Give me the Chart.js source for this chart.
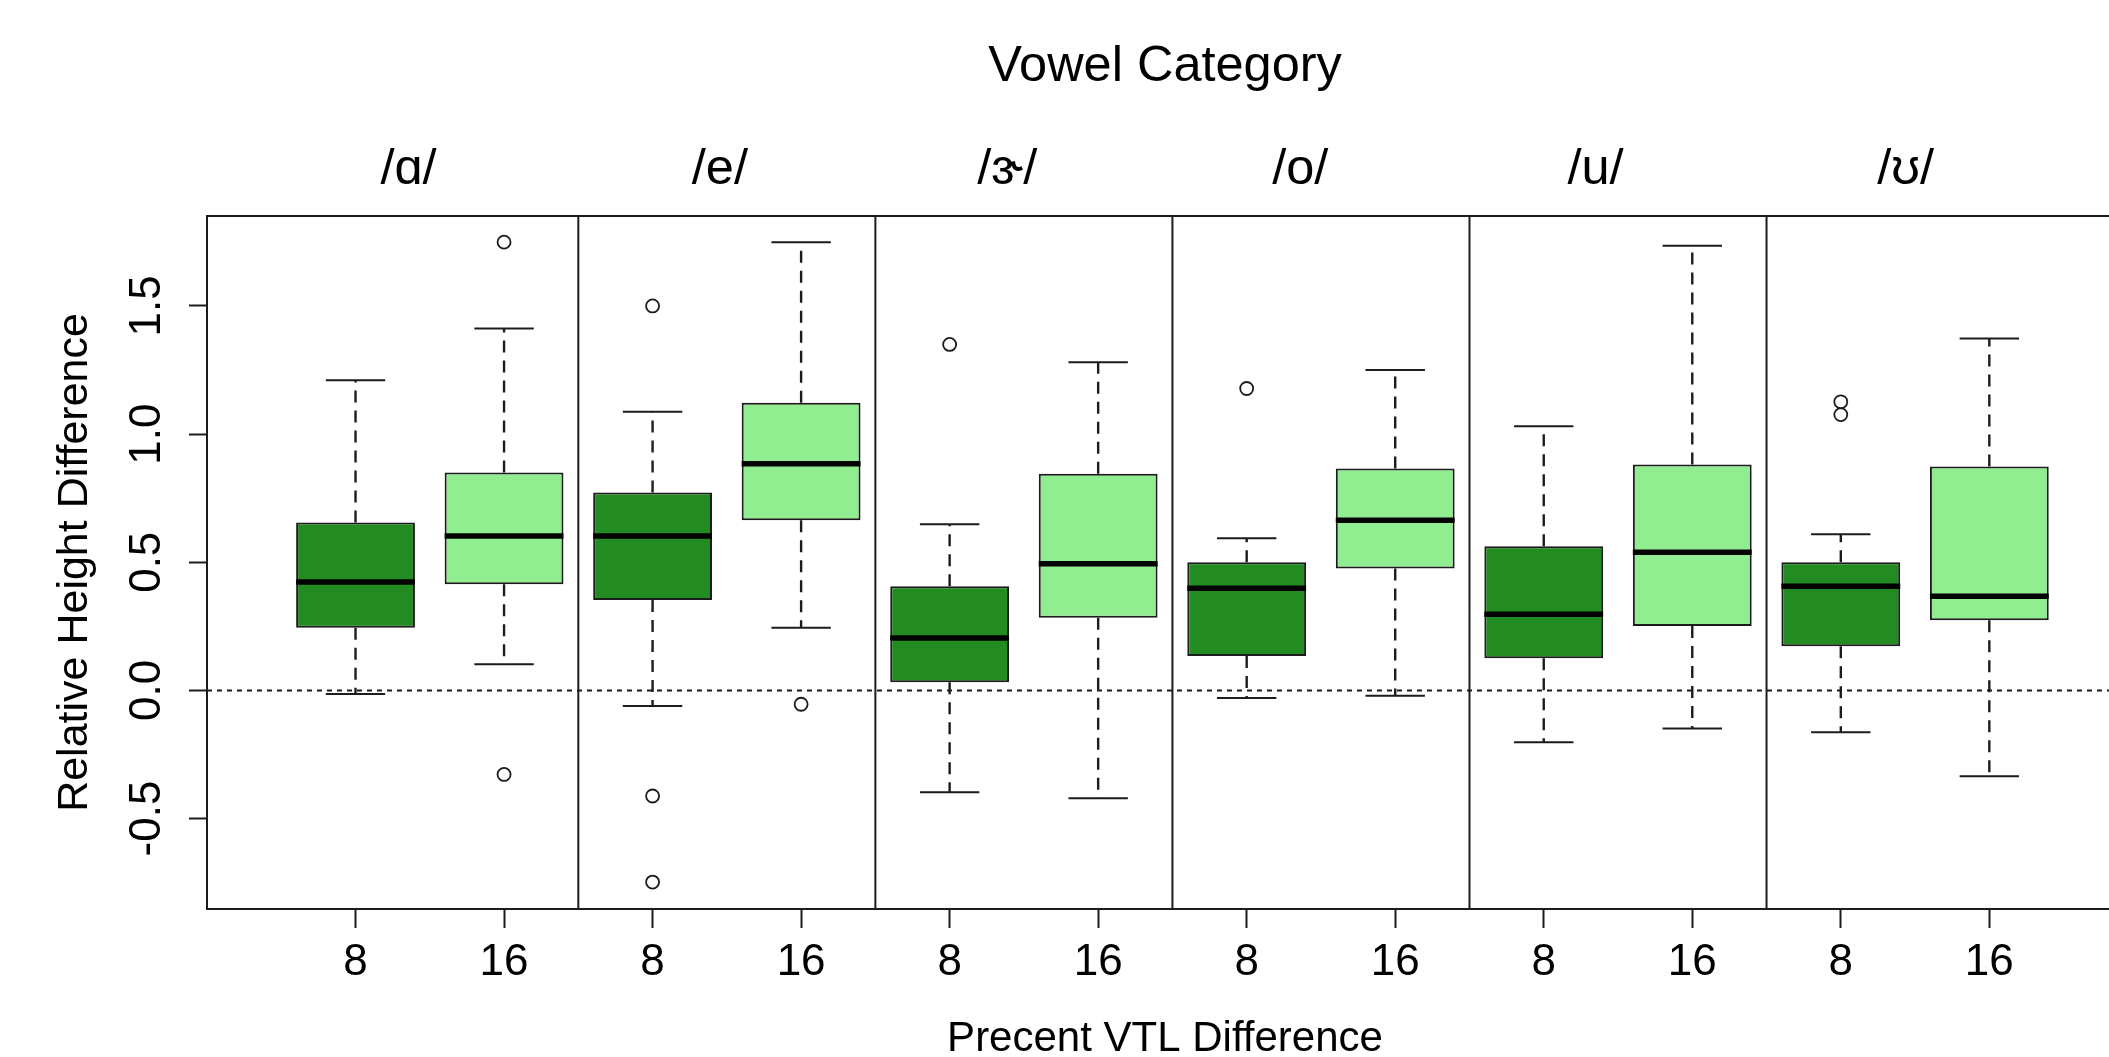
<!DOCTYPE html>
<html>
<head>
<meta charset="utf-8">
<script src="https://cdn.jsdelivr.net/npm/chart.js@4.4.1/dist/chart.umd.min.js"></script>
<style>
  html, body { margin: 0; padding: 0; background: #fff; overflow: hidden; }
  #wrap { width: 2160px; height: 1057px; }
</style>
</head>
<body>
<div id="wrap"><canvas id="boxChart" width="2160" height="1057"></canvas></div>
<script>
// Categorías
const vowels = ['/ɑ/', '/e/', '/ɝ/', '/o/', '/u/', '/ʊ/'];
const vtlLevels = ['8', '16'];

// Estadísticos de cada caja (orden: vocal x nivel VTL)
const whiskerLow  = [-0.014, 0.102, -0.061, 0.244, -0.397, -0.421, -0.030, -0.021, -0.202, -0.149, -0.163, -0.335];
const quartile1   = [0.244, 0.414, 0.353, 0.664, 0.032, 0.283, 0.134, 0.476, 0.125, 0.251, 0.172, 0.274];
const medians     = [0.423, 0.602, 0.602, 0.884, 0.204, 0.494, 0.399, 0.664, 0.297, 0.539, 0.406, 0.367];
const quartile3   = [0.655, 0.850, 0.772, 1.122, 0.406, 0.845, 0.500, 0.866, 0.562, 0.881, 0.500, 0.874];
const whiskerHigh = [1.210, 1.412, 1.087, 1.749, 0.648, 1.280, 0.594, 1.250, 1.031, 1.735, 0.609, 1.373];
const outliers    = [[], [1.749, -0.328], [1.500, -0.412, -0.748], [-0.054], [1.350], [], [1.178], [], [], [], [1.126, 1.076], []];

// Marcas del eje Y
const yTicks = [-0.5, 0, 0.5, 1.0, 1.5];

const FONT = 'Arial, "Liberation Sans", "DejaVu Sans", sans-serif';
const INK = '#1c1c1c';
const X_MIN = 0, X_MAX = 12.9;
const Y_MIN = -0.853, Y_MAX = 1.851;
const BOX_HALF = 0.4, CAP_HALF = 0.2;

// Posición de cada caja en el eje X
const positions = medians.map((_, i) => i + 1);

// Construir los segmentos del boxplot
const darkBoxes = [], lightBoxes = [];
const medianSegs = [], whiskerSegs = [], capSegs = [], outlierPts = [];
medians.forEach((m, i) => {
    const x = positions[i];
    const box = { x, y: [quartile1[i], quartile3[i]] };
    (i % vtlLevels.length === 0 ? darkBoxes : lightBoxes).push(box);
    medianSegs.push({ x: x - BOX_HALF, y: m }, { x: x + BOX_HALF, y: m }, { x, y: null });
    whiskerSegs.push(
        { x, y: quartile3[i] }, { x, y: whiskerHigh[i] }, { x, y: null },
        { x, y: quartile1[i] }, { x, y: whiskerLow[i] }, { x, y: null }
    );
    capSegs.push(
        { x: x - CAP_HALF, y: whiskerHigh[i] }, { x: x + CAP_HALF, y: whiskerHigh[i] }, { x, y: null },
        { x: x - CAP_HALF, y: whiskerLow[i] }, { x: x + CAP_HALF, y: whiskerLow[i] }, { x, y: null }
    );
    outliers[i].forEach(v => outlierPts.push({ x, y: v }));
});

// Separadores entre vocales
const dividerSegs = [];
for (let g = 1; g < vowels.length; g++) {
    const x = g * vtlLevels.length + 0.5;
    dividerSegs.push({ x, y: Y_MIN }, { x, y: Y_MAX }, { x, y: null });
}

// Posición de las etiquetas de vocal (unidades del eje X)
const facetLabelAt = [1.357, 3.453, 5.388, 7.361, 9.349, 11.437];

const lineBase = { type: 'line', pointRadius: 0, fill: false, tension: 0, spanGaps: false };

new Chart(document.getElementById('boxChart'), {
    type: 'bar',
    data: {
        datasets: [
            { ...lineBase, data: dividerSegs, borderColor: INK, borderWidth: 2, order: 8 },
            { ...lineBase, data: whiskerSegs, borderColor: INK, borderWidth: 2.4, borderDash: [12, 8], order: 6 },
            { ...lineBase, data: capSegs, borderColor: INK, borderWidth: 2, order: 5 },
            { label: vtlLevels[0], data: darkBoxes, backgroundColor: '#228B22', borderColor: INK, borderWidth: 2, borderSkipped: false, order: 4 },
            { label: vtlLevels[1], data: lightBoxes, backgroundColor: '#90EE90', borderColor: INK, borderWidth: 2, borderSkipped: false, order: 4 },
            { ...lineBase, data: medianSegs, borderColor: '#000', borderWidth: 5.5, borderCapStyle: 'butt', order: 2 },
            {
                type: 'line', data: outlierPts, showLine: false, pointStyle: 'circle',
                pointRadius: 6.5, pointBorderWidth: 1.8, pointBorderColor: INK,
                pointBackgroundColor: 'rgba(0,0,0,0)', order: 1
            },
            { ...lineBase, data: [{ x: X_MIN, y: 0 }, { x: X_MAX, y: 0 }], borderColor: INK, borderWidth: 2, borderDash: [5, 5], order: 0 }
        ]
    },
    options: {
        responsive: false,
        devicePixelRatio: 1,
        animation: false,
        layout: { padding: { left: 0, top: 0, right: 37, bottom: 0 } },
        datasets: {
            bar: { grouped: false, categoryPercentage: 1, barPercentage: 0.8 }
        },
        plugins: {
            legend: { display: false },
            tooltip: { enabled: false },
            title: {
                display: true,
                text: 'Vowel Category',
                fullSize: false,
                color: '#000',
                font: { family: FONT, size: 50.5, weight: 'normal' },
                padding: { top: 37.2, bottom: 0 }
            }
        },
        scales: {
            x: {
                type: 'linear', position: 'bottom', min: X_MIN, max: X_MAX, offset: false,
                afterBuildTicks: s => { s.ticks = positions.map(v => ({ value: v })); },
                afterFit: s => { s.height = 148; },
                grid: { display: true, drawOnChartArea: false, drawTicks: true, tickLength: 19, tickWidth: 2, tickColor: INK, offset: false },
                border: { display: true, color: INK, width: 2 },
                ticks: {
                    autoSkip: false, maxRotation: 0, minRotation: 0, padding: 8, color: '#000',
                    font: { family: FONT, size: 44 },
                    callback: (v, i) => vtlLevels[i % vtlLevels.length]
                },
                title: {
                    display: true, text: 'Precent VTL Difference', color: '#000',
                    font: { family: FONT, size: 42, weight: 'normal' },
                    padding: { top: 0, bottom: -8 }
                }
            },
            xTop: {
                type: 'linear', axis: 'x', position: 'top', min: X_MIN, max: X_MAX, offset: false,
                afterBuildTicks: s => { s.ticks = facetLabelAt.map(v => ({ value: v })); },
                afterFit: s => { s.height = 118.2; },
                grid: { display: false, drawTicks: false, tickLength: 0 },
                border: { display: true, color: INK, width: 2 },
                ticks: {
                    autoSkip: false, maxRotation: 0, minRotation: 0, padding: 15.7, color: '#000',
                    font: { family: FONT, size: 50.5 },
                    callback: (v, i) => vowels[i]
                }
            },
            y: {
                type: 'linear', min: Y_MIN, max: Y_MAX,
                afterBuildTicks: s => { s.ticks = yTicks.map(v => ({ value: v })); },
                afterFit: s => { s.width = 207; },
                grid: { display: true, drawOnChartArea: false, drawTicks: true, tickLength: 18, tickWidth: 2, tickColor: INK },
                border: { display: true, color: INK, width: 2 },
                ticks: {
                    minRotation: 90, maxRotation: 90, crossAlign: 'center', padding: 3, color: '#000',
                    font: { family: FONT, size: 44 },
                    callback: v => v.toFixed(1)
                },
                title: {
                    display: true, text: 'Relative Height Difference', color: '#000',
                    font: { family: FONT, size: 43, weight: 'normal' },
                    padding: { top: 49, bottom: 0 }
                }
            }
        }
    }
});
</script>
</body>
</html>
